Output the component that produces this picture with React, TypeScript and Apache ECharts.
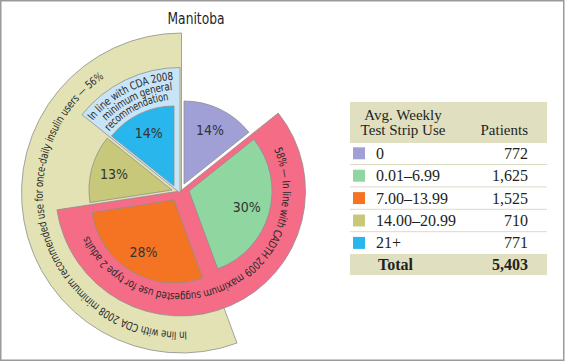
import React, { useEffect, useRef } from 'react';
import * as echarts from 'echarts';

// ---------- data ----------
const categories = ['0', '0.01–6.99', '7.00–13.99', '14.00–20.99', '21+'];
const patients = [772, 1625, 1525, 710, 771];
const sliceColors = ['#a0a0d6', '#8fd6a0', '#f47424', '#c8c87a', '#29b6ec'];
const pinkGroup = [1, 2];
const khakiGroup = [2, 3, 4];
const blueGroup = [4];
const title = 'Manitoba';
const pinkNote = '58% — In line with CADTH 2009 maximum suggested use for type 2 adults';
const khakiNote = 'In line with CDA 2008 minimum recommended use for once-daily insulin users — 56%';
const blueNote = ['In line with CDA 2008', 'minimum general', 'recommendation'];
const tableHeader = ['Avg. Weekly', 'Test Strip Use', 'Patients'];
const totalLabel = 'Total';

// ---------- layout ----------
const NARROW = "'Liberation Sans Narrow', 'DejaVu Sans Condensed', 'Noto Sans', sans-serif";
const SERIF = "'Liberation Serif', 'DejaVu Serif', serif";
const SLICE_GEOM = [
  { c: [184, 184], r: 83 },
  { c: [189, 191], r: 83 },
  { c: [174, 200], r: 83 },
  { c: [172, 190], r: 83 },
  { c: [174, 186], r: 80 },
];
const PINK = { c: [180.5, 191], r: 125, color: '#f56c87' };
const KHAKI = { c: [181.5, 193], r: 160, color: '#e2e2b4' };
const LBLUE = { c: [180, 193], r: 125.5, color: '#c8e4f7' };
const BORDER = '#8f8f8f';

const total = patients.reduce((a, b) => a + b, 0);

function runs(group: number[]) {
  const out: { value: number; on: boolean }[] = [];
  patients.forEach((v, i) => {
    const on = group.includes(i);
    const last = out[out.length - 1];
    if (last && last.on === on) last.value += v;
    else out.push({ value: v, on });
  });
  return out;
}

const TRANSPARENT = 'rgba(0,0,0,0)';

function pieSeries(id: string, center: number[], radius: any, items: { value: number; on: boolean }[], color: string, z: number) {
  return {
    type: 'pie',
    id,
    center,
    radius,
    startAngle: 90,
    clockwise: true,
    silent: true,
    z,
    avoidLabelOverlap: false,
    label: { show: false },
    labelLine: { show: false },
    emphasis: { disabled: true },
    data: items.map((it) => ({
      value: it.value,
      itemStyle: it.on
        ? { color, borderColor: BORDER, borderWidth: 0.8 }
        : { color: TRANSPARENT, borderWidth: 0 },
    })),
  };
}

let ctx2d: CanvasRenderingContext2D | null = null;
function measure(s: string, font: string) {
  if (!ctx2d) ctx2d = document.createElement('canvas').getContext('2d');
  ctx2d!.font = font;
  return ctx2d!.measureText(s).width;
}

function arcText(text: string, cx: number, cy: number, r: number, a0: number, a1: number, size: number) {
  const font = `${size}px ${NARROW}`;
  const chars = [...text];
  const ws = chars.map((ch) => measure(ch, font));
  const W = ws.reduce((a, b) => a + b, 0);
  const spanRad = ((a1 - a0) * Math.PI) / 180;
  const k = spanRad / W;
  const sx = Math.min(1.05, (spanRad * r) / W);
  let acc = 0;
  return chars.map((ch, i) => {
    const th = (a0 * Math.PI) / 180 + (acc + ws[i] / 2) * k;
    acc += ws[i];
    return {
      type: 'text',
      x: cx + r * Math.sin(th),
      y: cy - r * Math.cos(th),
      rotation: -th,
      scaleX: sx,
      z: 100,
      silent: true,
      style: { text: ch, font, fill: '#2a2a2a', align: 'center', verticalAlign: 'middle' },
    };
  });
}

export default function App() {
  const ref = useRef<HTMLDivElement>(null);
  useEffect(() => {
    document.body.style.margin = '0';
    const chart = echarts.init(ref.current!, undefined, { renderer: 'svg' });

    const series: any[] = [];
    series.push(pieSeries('khaki', KHAKI.c, KHAKI.r, runs(khakiGroup), KHAKI.color, 1));
    series.push(pieSeries('pink', PINK.c, PINK.r, runs(pinkGroup), PINK.color, 2));
    series.push(pieSeries('lblue', LBLUE.c, LBLUE.r, runs(blueGroup), LBLUE.color, 3));
    patients.forEach((_, i) => {
      const g = SLICE_GEOM[i];
      series.push(pieSeries('slice' + i, g.c, g.r, runs([i]), sliceColors[i], 4));
      series.push({
        type: 'pie',
        id: 'label' + i,
        center: g.c,
        radius: [31, g.r],
        startAngle: 90,
        clockwise: true,
        silent: true,
        z: 5,
        avoidLabelOverlap: false,
        labelLine: { show: false },
        emphasis: { disabled: true },
        label: {
          position: 'inside',
          fontFamily: NARROW,
          fontSize: 14,
          color: '#333',
          formatter: (p: any) => Math.round((p.value / total) * 100) + '%',
        },
        data: patients.map((v, j) => ({
          value: v,
          itemStyle: { color: TRANSPARENT, borderWidth: 0 },
          label: { show: j === i },
        })),
      });
    });

    const graphics: any[] = [];
    graphics.push({
      type: 'rect',
      z: 0,
      silent: true,
      shape: { x: 0.75, y: 0.75, width: 563, height: 359.5 },
      style: { fill: 'none', stroke: '#9a9a9a', lineWidth: 1.5 },
    });
    const titleFont = `16px ${NARROW}`;
    const titleScale = Math.min(1, 57 / measure(title, titleFont));
    graphics.push({
      type: 'text',
      x: 196,
      y: 19,
      z: 100,
      scaleX: titleScale,
      style: { text: title, font: titleFont, fill: '#1f1f2a', align: 'center', verticalAlign: 'middle' },
    });
    graphics.push(...arcText(pinkNote, PINK.c[0], PINK.c[1], 106.5, 66, 244, 11));
    graphics.push(...arcText(khakiNote, KHAKI.c[0], KHAKI.c[1], 143, 177.8, 326, 11));
    const blueR = [117.5, 107.5, 97.5];
    const blueSpan = [
      [309.6, 356.6],
      [314.3, 355.7],
      [311, 353],
    ];
    blueNote.forEach((line, i) => {
      graphics.push(...arcText(line, LBLUE.c[0], LBLUE.c[1], blueR[i], blueSpan[i][0], blueSpan[i][1], 11));
    });

    // table
    const tx0 = 350, tx1 = 547, valX = 528, catX = 376;
    const fill = '#e0dfc0';
    const tcol = '#231f20';
    graphics.push({ type: 'rect', z: 1, shape: { x: tx0, y: 102, width: tx1 - tx0, height: 41 }, style: { fill } });
    graphics.push({ type: 'text', x: 403, y: 115, z: 100, style: { text: tableHeader[0], font: `15px ${SERIF}`, fill: tcol, align: 'center', verticalAlign: 'middle' } });
    graphics.push({ type: 'text', x: 403, y: 130, z: 100, style: { text: tableHeader[1], font: `15px ${SERIF}`, fill: tcol, align: 'center', verticalAlign: 'middle' } });
    graphics.push({ type: 'text', x: valX, y: 130, z: 100, style: { text: tableHeader[2], font: `15px ${SERIF}`, fill: tcol, align: 'right', verticalAlign: 'middle' } });
    const rowY0 = 153.3, step = 22.4;
    categories.forEach((cat, i) => {
      const y = rowY0 + i * step;
      graphics.push({ type: 'rect', z: 2, shape: { x: 353, y: y - 6, width: 12, height: 12 }, style: { fill: sliceColors[i] } });
      graphics.push({ type: 'text', x: catX, y, z: 100, style: { text: cat, font: `16px ${SERIF}`, fill: tcol, align: 'left', verticalAlign: 'middle' } });
      graphics.push({ type: 'text', x: valX, y, z: 100, style: { text: patients[i].toLocaleString('en-US'), font: `16px ${SERIF}`, fill: tcol, align: 'right', verticalAlign: 'middle' } });
      if (i < categories.length - 1) {
        graphics.push({ type: 'line', z: 2, shape: { x1: tx0, y1: y + step / 2, x2: tx1, y2: y + step / 2 }, style: { stroke: '#dcdbc4', lineWidth: 1 } });
      }
    });
    graphics.push({ type: 'rect', z: 1, shape: { x: tx0, y: 254, width: tx1 - tx0, height: 21 }, style: { fill } });
    graphics.push({ type: 'text', x: 378, y: 264.5, z: 100, style: { text: totalLabel, font: `bold 16px ${SERIF}`, fill: tcol, align: 'left', verticalAlign: 'middle' } });
    graphics.push({ type: 'text', x: valX, y: 264.5, z: 100, style: { text: total.toLocaleString('en-US'), font: `bold 16px ${SERIF}`, fill: tcol, align: 'right', verticalAlign: 'middle' } });

    chart.setOption({
      animation: false,
      backgroundColor: '#ffffff',
      series,
      graphic: { elements: graphics },
    });
    return () => chart.dispose();
  }, []);
  return <div ref={ref} style={{ width: 565, height: 362 }} />;
}
